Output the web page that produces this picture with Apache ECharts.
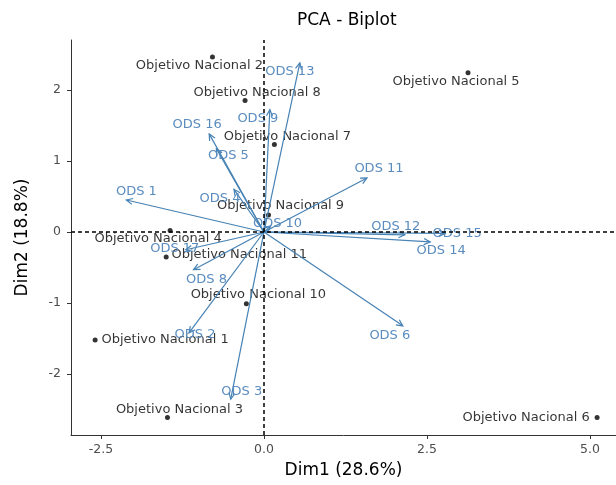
<!DOCTYPE html>
<html>
<head>
<meta charset="utf-8">
<title>PCA - Biplot</title>
<script src="https://cdn.jsdelivr.net/npm/echarts@6/dist/echarts.min.js"></script>
<style>
  html, body { margin: 0; padding: 0; background: #fff; }
  #chart { width: 616px; height: 485px; }
</style>
</head>
<body>
<div id="chart"></div>
<script>
// individuos: objetivos nacionales
var onNames = [
  "Objetivo Nacional 1", "Objetivo Nacional 2", "Objetivo Nacional 3",
  "Objetivo Nacional 4", "Objetivo Nacional 5", "Objetivo Nacional 6",
  "Objetivo Nacional 7", "Objetivo Nacional 8", "Objetivo Nacional 9",
  "Objetivo Nacional 10", "Objetivo Nacional 11"
];
var onDim1 = [-2.59, -0.79, -1.48, -1.44, 3.13, 5.11, 0.16, -0.29, 0.07, -0.27, -1.50];
var onDim2 = [-1.52, 2.46, -2.61, 0.02, 2.24, -2.61, 1.23, 1.85, 0.24, -1.01, -0.35];

// variables: ODS (puntas de flecha)
var odsNames = [
  "ODS 1", "ODS 2", "ODS 3", "ODS 4", "ODS 5", "ODS 6", "ODS 8", "ODS 9",
  "ODS 10", "ODS 11", "ODS 12", "ODS 13", "ODS 14", "ODS 15", "ODS 16", "ODS 17"
];
var odsDim1 = [-2.11, -1.15, -0.51, -0.46, -0.73, 2.13, -1.08, 0.09, 0.10, 1.58, 2.16, 0.55, 2.55, 2.78, -0.84, -1.20];
var odsDim2 = [0.45, -1.42, -2.35, 0.60, 1.17, -1.32, -0.53, 1.72, 0.08, 0.76, -0.04, 2.38, -0.14, -0.02, 1.38, -0.25];

var xTicks = [-2.5, 0, 2.5, 5];
var yTicks = [-2, -1, 0, 1, 2];

// desplazamiento de etiquetas en px (solo maquetacion)
var onLabelOffsets = [[70, 0], [-13, 9], [12, -8], [-12, 8], [-12, 9], [-71, 0], [13, -8], [12, -8], [12, -9], [12, -9], [73, -2]];
var odsLabelOffsets = [[10, -8], [6, 2], [11, -7], [-14, 9], [12, 7], [-13, 10], [13, 10], [-12, 9], [7, -3], [12, -9], [-9, -8], [-10, 9], [11, 9], [12, 0], [-12, -9], [-11, -1]];

var blue = "#4682B4";
var font = '"DejaVu Sans", sans-serif';

var chart = echarts.init(document.getElementById("chart"));

var onData = onNames.map(function (n, i) {
  return {
    name: n,
    value: [onDim1[i], onDim2[i]],
    label: { offset: onLabelOffsets[i] }
  };
});
var odsData = odsNames.map(function (n, i) {
  return [odsDim1[i], odsDim2[i], n];
});

function renderArrow(params, api) {
  var i = params.dataIndex;
  var o = api.coord([0, 0]);
  var t = api.coord([api.value(0), api.value(1)]);
  var ang = Math.atan2(t[1] - o[1], t[0] - o[0]);
  var len = 7, spread = Math.PI / 7;
  var h1 = [t[0] - len * Math.cos(ang - spread), t[1] - len * Math.sin(ang - spread)];
  var h2 = [t[0] - len * Math.cos(ang + spread), t[1] - len * Math.sin(ang + spread)];
  var off = odsLabelOffsets[i];
  return {
    type: "group",
    children: [
      { type: "line", shape: { x1: o[0], y1: o[1], x2: t[0], y2: t[1] }, style: { stroke: blue, lineWidth: 1.2 } },
      { type: "polyline", shape: { points: [h1, t, h2] }, style: { stroke: blue, lineWidth: 1.2, fill: null } },
      {
        type: "text", x: t[0] + off[0], y: t[1] + off[1],
        style: { text: odsNames[i], fill: "#5a8cbf", font: "13px " + font, align: "center", verticalAlign: "middle" }
      }
    ]
  };
}

var option = {
  animation: false,
  title: {
    text: "PCA - Biplot",
    left: 292,
    top: 7,
    textStyle: { fontFamily: font, fontSize: 17, fontWeight: "normal", color: "#000" }
  },
  grid: { left: 71, right: 0, top: 40, bottom: 50 },
  xAxis: {
    type: "value",
    min: -2.96,
    max: 5.40,
    name: "Dim1 (28.6%)",
    nameLocation: "middle",
    nameGap: 27,
    nameTextStyle: { fontFamily: font, fontSize: 17, color: "#000" },
    axisLine: { onZero: false, lineStyle: { color: "#333", width: 1 } },
    axisTick: { customValues: xTicks, length: 4, lineStyle: { color: "#333" } },
    axisLabel: {
      customValues: xTicks, margin: 8, color: "#4d4d4d", fontFamily: font, fontSize: 12.5,
      formatter: function (v) { return v.toFixed(1); }
    },
    splitLine: { show: false }
  },
  yAxis: {
    type: "value",
    min: -2.855,
    max: 2.70,
    name: "Dim2 (18.8%)",
    nameLocation: "middle",
    nameGap: 40,
    nameTextStyle: { fontFamily: font, fontSize: 17, color: "#000" },
    axisLine: { show: true, onZero: false, lineStyle: { color: "#333", width: 1 } },
    axisTick: { show: true, customValues: yTicks, length: 4, lineStyle: { color: "#333" } },
    axisLabel: {
      customValues: yTicks, margin: 10, color: "#4d4d4d", fontFamily: font, fontSize: 12.5,
      formatter: function (v) { return String(v); }
    },
    splitLine: { show: false }
  },
  series: [
    {
      type: "scatter",
      symbolSize: 5,
      itemStyle: { color: "#000" },
      data: onData,
      label: {
        show: true,
        position: "inside",
        formatter: "{b}",
        color: "#000",
        fontFamily: font,
        fontSize: 13,
        textBorderWidth: 0
      },
      markLine: {
        silent: true,
        symbol: ["none", "none"],
        label: { show: false },
        lineStyle: { color: "#000", type: [4, 3], width: 1.5 },
        data: [{ xAxis: 0 }, { yAxis: 0 }]
      }
    },
    {
      type: "custom",
      renderItem: renderArrow,
      data: odsData,
      z: 3
    }
  ]
};

chart.setOption(option);
</script>
</body>
</html>
